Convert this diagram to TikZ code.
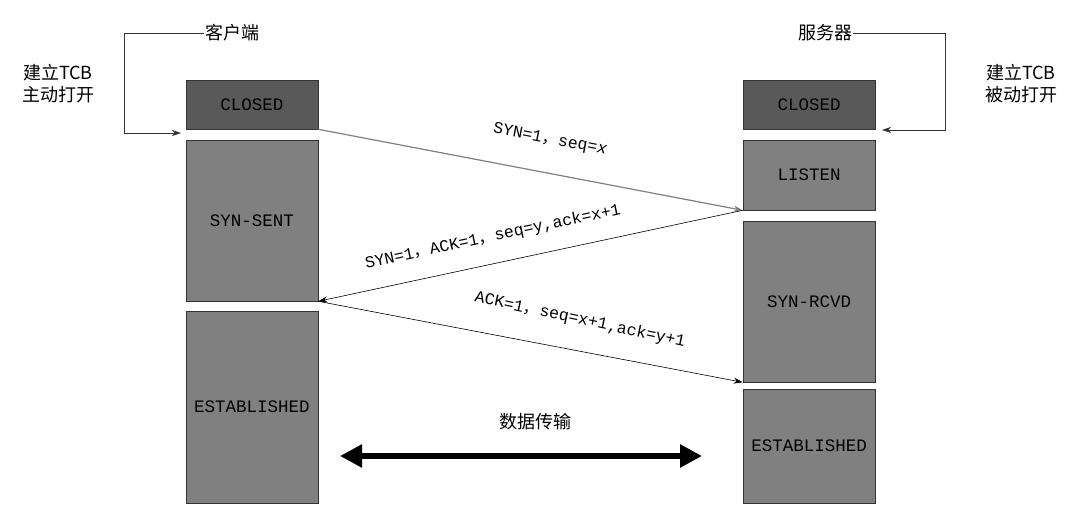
\documentclass[tikz,border=0pt]{standalone}
\usepackage{fontspec}
\setmainfont{Liberation Mono}
\newfontfamily\cjk{Noto Sans CJK SC}
\usetikzlibrary{arrows.meta}
\definecolor{dark}{HTML}{595959}
\definecolor{mid}{HTML}{808080}
\begin{document}
\begin{tikzpicture}[x=1pt,y=-1pt,
  st/.style={draw=black!80,line width=0.6pt,fill=mid,font=\fontsize{17.5}{17.5}\selectfont},
  msg/.style={-{Stealth[length=9pt,width=6pt]},line width=0.6pt},
  lbl/.style={font=\fontsize{16.5}{16.5}\selectfont,inner sep=0pt},
  cn/.style={font=\cjk\fontsize{18}{22}\selectfont,inner sep=1pt,align=center}]
\useasboundingbox (0,0) rectangle (1070,510);
% left column
\node[st,fill=dark,minimum width=132pt,minimum height=49pt] (lc) at (252,104.5) {CLOSED};
\node[st,minimum width=132pt,minimum height=161pt] (ls) at (252,220.5) {SYN-SENT};
\node[st,minimum width=132pt,minimum height=192pt] (le) at (252,407) {ESTABLISHED};
% right column
\node[st,fill=dark,minimum width=132pt,minimum height=49pt] (rc) at (809,104.5) {CLOSED};
\node[st,minimum width=132pt,minimum height=70pt] (rl) at (809,175) {LISTEN};
\node[st,minimum width=132pt,minimum height=161pt] (rs) at (809,301.5) {SYN-RCVD};
\node[st,minimum width=132pt,minimum height=114pt] (re) at (809,446) {ESTABLISHED};
% titles
\node[cn] (cli) at (232,33) {客户端};
\node[cn] (srv) at (825,33) {服务器};
\node[cn] (la) at (58,84) {建立TCB\\主动打开};
\node[cn] (ra) at (1021,84) {建立TCB\\被动打开};
\coordinate (c1) at (124,33);
\coordinate (c2) at (124,133);
\coordinate (c3) at (181,133);
\coordinate (s1) at (945,33);
\coordinate (s2) at (945,130);
\coordinate (s3) at (882,130);
\draw[msg,draw=black!80] (cli.west) -- (c1) -- (c2) -- (c3);
\draw[msg,draw=black!80] (srv.east) -- (s1) -- (s2) -- (s3);
% messages
\draw[msg,draw=mid,line width=1.2pt] (lc.south east) -- (rl.south west);
\draw[msg] (rl.south west) -- (ls.south east);
\draw[msg] (ls.south east) -- (rs.south west);
\node[lbl,rotate=-10.8] at (550,140) {SYN=1{\cjk ，}seq=\textit{x}};
\node[lbl,rotate=12] at (493,237) {SYN=1{\cjk ，}ACK=1{\cjk ，}seq=y,ack=x+1};
\node[lbl,rotate=-12] at (580,320) {ACK=1{\cjk ，}seq=x+1,ack=y+1};
% data transfer
\node[cn] (dt) at (535,422) {数据传输};
\coordinate (d1) at (340,456);
\coordinate (d2) at (702,456);
\draw[{Triangle[length=22pt,width=22pt]}-{Triangle[length=22pt,width=22pt]},line width=6pt] (d1) -- (d2);
\end{tikzpicture}
\end{document}
